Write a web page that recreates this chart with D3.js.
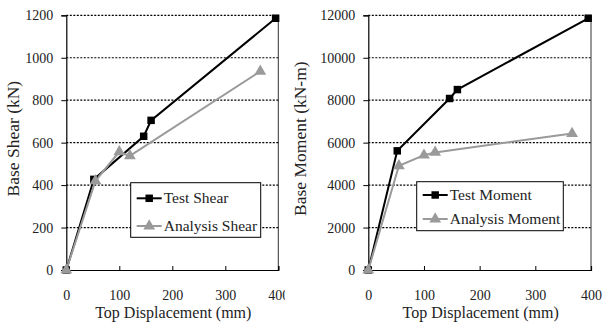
<!DOCTYPE html>
<html><head><meta charset="utf-8">
<script src="https://cdn.jsdelivr.net/npm/d3@7"></script>
<style>
html,body{margin:0;padding:0;background:#fff;}
svg{display:block;}
</style></head>
<body>
<svg id="chart" width="604" height="329"></svg>
<script>
// ---- data ----
const dispTicks = [0, 100, 200, 300, 400];
const shearTicks = [0, 200, 400, 600, 800, 1000, 1200];
const momentTicks = [0, 2000, 4000, 6000, 8000, 10000, 12000];

const dispTest = [0, 52, 146, 160, 395];
const shearTest = [0, 427, 630, 705, 1186];
const momentTest = [0, 5614, 8080, 8500, 11860];

const dispAnalysis = [0, 55, 100, 120, 366];
const shearAnalysis = [0, 420, 557, 538, 936];
const momentAnalysis = [0, 4910, 5410, 5540, 6430];

const FONT = "'Liberation Serif', 'Times New Roman', 'DejaVu Serif', serif";

const panels = [
  {x0: 66.3, x1: 278.3, yMax: 1200, yTicks: shearTicks, yTitle: "Base Shear (kN)", yTitleX: 19,
   test: shearTest, analysis: shearAnalysis, names: ["Test Shear", "Analysis Shear"],
   legend: {x: 130.7, y: 182.7, w: 130, h: 54.6, r1: 198.3, r2: 226}, clipX: 0, clipW: 285},
  {x0: 368.3, x1: 591, yMax: 12000, yTicks: momentTicks, yTitle: "Base Moment (kN-m)", yTitleX: 306,
   test: momentTest, analysis: momentAnalysis, names: ["Test Moment", "Analysis Moment"],
   legend: {x: 416.7, y: 181.7, w: 146.6, h: 49, r1: 195, r2: 219}, clipX: 286, clipW: 318}
];

const svg = d3.select("#chart");
const yTop = 15.3, yBot = 270;
const grey = "#9a9a9a";
const ink = "#222";

panels.forEach((p, i) => {
  const clipId = "clip" + i;
  svg.append("clipPath").attr("id", clipId).append("rect")
    .attr("x", p.clipX).attr("y", 0).attr("width", p.clipW).attr("height", 329);
  const g = svg.append("g").attr("clip-path", `url(#${clipId})`);
  const x = d3.scaleLinear().domain([0, 400]).range([p.x0, p.x1]);
  const y = d3.scaleLinear().domain([0, p.yMax]).range([yBot, yTop]);

  // gridlines (dotted)
  g.append("g").selectAll("line").data(p.yTicks.filter(t => t > 0)).join("line")
    .attr("x1", p.x0).attr("x2", p.x1)
    .attr("y1", d => y(d)).attr("y2", d => y(d))
    .attr("stroke", "#000").attr("stroke-width", 1.2).attr("stroke-dasharray", "2,1.5");

  // right border
  g.append("line").attr("x1", p.x1).attr("x2", p.x1).attr("y1", yTop).attr("y2", yBot)
    .attr("stroke", "#333").attr("stroke-width", 1);

  // y axis
  const yAxis = d3.axisLeft(y).tickValues(p.yTicks).tickSize(5).tickPadding(8).tickFormat(d3.format("d"));
  const ya = g.append("g").attr("transform", `translate(${p.x0},0)`).call(yAxis);
  ya.attr("font-family", null).attr("font-size", null);
  ya.select(".domain").attr("stroke", "#000").attr("stroke-width", 1.2);
  ya.selectAll(".tick line").attr("stroke", "#000");
  ya.selectAll("text").style("font-family", FONT).style("font-size", "14px").attr("fill", ink);

  // x axis (inward ticks)
  const xAxis = d3.axisBottom(x).tickValues(dispTicks).tickSize(-4).tickPadding(20).tickFormat(d3.format("d"));
  const xa = g.append("g").attr("transform", `translate(0,${yBot})`).call(xAxis);
  xa.attr("font-family", null).attr("font-size", null);
  xa.select(".domain").attr("stroke", "#000").attr("stroke-width", 1.2);
  xa.selectAll(".tick line").attr("stroke", "#000");
  xa.selectAll("text").style("font-family", FONT).style("font-size", "14px").attr("fill", ink);

  // axis titles
  g.append("text").attr("x", (p.x0 + p.x1) / 2 + 1).attr("y", 318)
    .attr("text-anchor", "middle").style("font-family", FONT).style("font-size", "16px")
    .attr("fill", ink).text("Top Displacement (mm)");
  g.append("text").attr("transform", `translate(${p.yTitleX},${(yTop + yBot) / 2 - 4}) rotate(-90)`)
    .attr("text-anchor", "middle").style("font-family", FONT).style("font-size", "17.5px")
    .attr("fill", ink).text(p.yTitle);

  const line = d3.line();
  const testPts = dispTest.map((d, k) => [x(d), y(p.test[k])]);
  const anPts = dispAnalysis.map((d, k) => [x(d), y(p.analysis[k])]);

  g.append("path").attr("d", line(testPts)).attr("fill", "none").attr("stroke", "#000").attr("stroke-width", 2);
  g.append("path").attr("d", line(anPts)).attr("fill", "none").attr("stroke", grey).attr("stroke-width", 2);

  const sq = d3.symbol().type(d3.symbolSquare).size(56);
  const tri = d3.symbol().type(d3.symbolTriangle).size(60);
  g.append("g").selectAll("path").data(testPts).join("path")
    .attr("transform", d => `translate(${d[0]},${d[1]})`).attr("d", sq).attr("fill", "#000");
  g.append("g").selectAll("path").data(anPts).join("path")
    .attr("transform", d => `translate(${d[0]},${d[1]})`).attr("d", tri).attr("fill", grey);

  // legend
  const L = p.legend;
  const lg = g.append("g");
  lg.append("rect").attr("x", L.x).attr("y", L.y).attr("width", L.w).attr("height", L.h)
    .attr("fill", "#fff").attr("stroke", "#000").attr("stroke-width", 1);
  const lx1 = L.x + 6, lx2 = L.x + 31, lmid = (lx1 + lx2) / 2;
  [[L.r1, "#000", sq, p.names[0]], [L.r2, grey, tri, p.names[1]]].forEach(([ry, c, sym, name]) => {
    lg.append("line").attr("x1", lx1).attr("x2", lx2).attr("y1", ry).attr("y2", ry)
      .attr("stroke", c).attr("stroke-width", 2);
    lg.append("path").attr("transform", `translate(${lmid},${ry})`).attr("d", sym).attr("fill", c);
    lg.append("text").attr("x", lx2 + 2).attr("y", ry + 5).style("font-family", FONT)
      .style("font-size", "15.5px").attr("fill", ink).text(name);
  });
});
</script>
</body></html>
